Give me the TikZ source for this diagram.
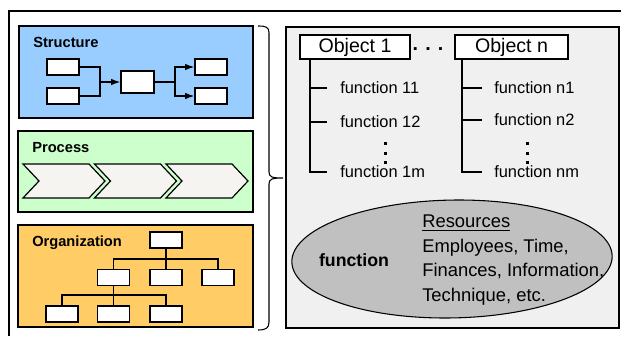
\documentclass[tikz,border=0pt]{standalone}
\usepackage{fontspec}
\setmainfont{Liberation Sans}
\usetikzlibrary{arrows.meta}

\definecolor{structblue}{RGB}{153,204,255}
\definecolor{procgreen}{RGB}{204,255,204}
\definecolor{orgorange}{RGB}{255,204,102}
\definecolor{panelgray}{RGB}{240,240,240}
\definecolor{chevronfill}{RGB}{246,244,240}
\definecolor{ellgray}{RGB}{192,192,192}

\tikzset{
  area/.style={draw, line width=0.9pt},
  minibox/.style={draw, fill=white, line width=1pt, minimum width=24pt, minimum height=12pt, inner sep=0pt},
  headlabel/.style={font=\fontsize{11}{13}\selectfont\bfseries, inner sep=0pt, anchor=base west},
  objbox/.style={draw, fill=white, line width=0.8pt, minimum height=18pt, inner sep=0pt, font=\fontsize{14.7}{17}\selectfont},
  funclabel/.style={anchor=west, inner sep=0pt, font=\fontsize{12.3}{14}\selectfont},
  wire/.style={line width=1pt},
}

\begin{document}
\begin{tikzpicture}[x=0.75pt,y=0.75pt,yscale=-1,xscale=1]
        \useasboundingbox (0,0) rectangle (621,336);

        % outer frame
        \draw [line width=0.8pt] (9,336) -- (9,11) -- (621,11);

        % Structure
        \draw [area, fill=structblue] (19,26) rectangle (253,118);
        \node [headlabel] (tstruct) at (33,47) {Structure};
        \node [minibox] (s1) at (63,67) {};
        \node [minibox] (s2) at (63,96) {};
        \node [minibox, minimum width=24.75pt, minimum height=16.5pt] (s0) at (137.5,82) {};
        \node [minibox] (s3) at (211,67) {};
        \node [minibox] (s4) at (211,96) {};
        \coordinate (sjoin) at (100,82);
        \coordinate (sfork) at (175,82);
        \draw [wire] (s1.east) -| (sjoin) |- (s2.east);
        \draw [wire, -{Latex[length=7pt,width=5pt]}] (sjoin) -- (s0.west);
        \draw [wire] (s0.east) -- (sfork);
        \draw [wire, -{Latex[length=7pt,width=5pt]}] (sfork) |- (s3.west);
        \draw [wire, -{Latex[length=7pt,width=5pt]}] (sfork) |- (s4.west);

        % Process
        \draw [area, fill=procgreen] (18,131) rectangle (253,212);
        \node [headlabel] (tproc) at (32,152) {Process};
        \foreach \l in {23,94.5,166}
          \draw [line width=0.9pt, fill=chevronfill] (\l,164) -- ++(66,0) -- ++(16,17) -- ++(-16,17) -- ++(-66,0) -- ++(16,-17) -- cycle;

        % Organization
        \draw [area, fill=orgorange] (18,225) rectangle (253,327);
        \node [headlabel] (torg) at (32,246) {Organization};
        \node [minibox] (o0) at (166,240) {};
        \node [minibox] (o1) at (113.5,277.5) {};
        \node [minibox] (o2) at (166,277.5) {};
        \node [minibox] (o3) at (218,277.5) {};
        \node [minibox] (o11) at (62,314) {};
        \node [minibox] (o12) at (113.5,314) {};
        \node [minibox] (o13) at (166,314) {};
        \coordinate (obus) at (166,259);
        \coordinate (obus2) at (113.5,295);
        \draw [wire] (o0.south) -- (obus);
        \draw [wire] (o1.north) |- (obus) -| (o3.north);
        \draw [wire] (obus) -- (o2.north);
        \draw [wire] (o1.south) -- (obus2);
        \draw [wire] (o11.north) |- (obus2) -| (o13.north);
        \draw [wire] (obus2) -- (o12.north);

        % brace
        \draw [line width=0.8pt] (258,26) .. controls (266,26) and (269,27) .. (269,33) -- (269,172) .. controls (269,177) and (272,178) .. (283,178) .. controls (272,178) and (269,179) .. (269,184) -- (269,322) .. controls (269,328) and (266,330) .. (258,330);

        % objects and functions
        \draw [area, fill=panelgray] (286,27) rectangle (619,328);
        \node [objbox, minimum width=82.5pt] (obj1) at (355,47) {Object 1};
        \node [objbox, minimum width=84.75pt] (objn) at (511.5,47) {Object n};
        \node [inner sep=0pt, font=\fontsize{14.7}{17}\selectfont\bfseries] (odots) at (428,49) {. . .};

        \coordinate (stem1) at (310,59);
        \node [funclabel] (f11) at (340,88) {function 11};
        \node [funclabel] (f12) at (340,122) {function 12};
        \node [funclabel] (f1m) at (340,172) {function 1m};
        \draw [wire] (stem1) |- ([xshift=-9.75pt]f1m.west);
        \draw [wire] (stem1 |- f11.west) -- ([xshift=-9.75pt]f11.west);
        \draw [wire] (stem1 |- f12.west) -- ([xshift=-9.75pt]f12.west);

        \coordinate (stemn) at (462,59);
        \node [funclabel] (fn1) at (494,88) {function n1};
        \node [funclabel] (fn2) at (494,120) {function n2};
        \node [funclabel] (fnm) at (494,172) {function nm};
        \draw [wire] (stemn) |- ([xshift=-9pt]fnm.west);
        \draw [wire] (stemn |- fn1.west) -- ([xshift=-9pt]fn1.west);
        \draw [wire] (stemn |- fn2.west) -- ([xshift=-9pt]fn2.west);

        \foreach \x in {384,526}
          \foreach \y in {142,151.5,161}
            \fill (\x,\y) rectangle ++(3,3);

        % resources ellipse
        \begin{scope}[shift={(452,259)}, xslant=-0.12]
          \draw [line width=0.8pt, fill=ellgray] (0,0) ellipse [x radius=160, y radius=59];
        \end{scope}
        \node [inner sep=0pt, font=\fontsize{13.3}{16}\selectfont\bfseries] (fcore) at (354,260) {function};
        \node [anchor=north west, inner sep=0pt, align=left, font=\fontsize{13.8}{18.4}\selectfont] (res) at (422,215) {\underline{Resources}\\Employees, Time,\\Finances, Information,\\Technique, etc.};

\end{tikzpicture}
\end{document}
